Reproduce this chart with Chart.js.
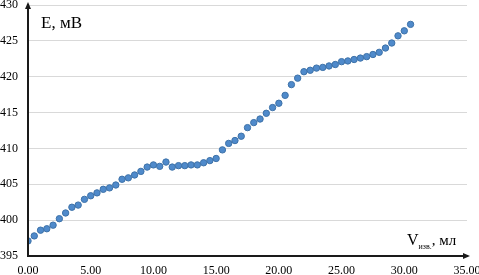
<!DOCTYPE html>
<html>
<head>
<meta charset="utf-8">
<script src="https://cdn.jsdelivr.net/npm/chart.js@4"></script>
<style>
  html, body { margin: 0; padding: 0; background: #fff; }
  #wrap { width: 479px; height: 275px; position: relative; }
</style>
</head>
<body>
<div id="wrap"><canvas id="chart" width="479" height="275"></canvas></div>
<script>
// объём титранта, мл
const volumes = [
  0.0, 0.5, 1.0, 1.5, 2.0, 2.5, 3.0, 3.5, 4.0, 4.5,
  5.0, 5.5, 6.0, 6.5, 7.0, 7.5, 8.0, 8.5, 9.0, 9.5,
  10.0, 10.5, 11.0, 11.5, 12.0, 12.5, 13.0, 13.5, 14.0, 14.5,
  15.0, 15.5, 16.0, 16.5, 17.0, 17.5, 18.0, 18.5, 19.0, 19.5,
  20.0, 20.5, 21.0, 21.5, 22.0, 22.5, 23.0, 23.5, 24.0, 24.5,
  25.0, 25.5, 26.0, 26.5, 27.0, 27.5, 28.0, 28.5, 29.0, 29.5,
  30.0, 30.5
];
// ЭДС, мВ
const potentials = [
  397.1, 397.8, 398.6, 398.8, 399.3, 400.2, 401.0, 401.8, 402.1, 402.9,
  403.4, 403.8, 404.3, 404.5, 404.9, 405.7, 405.9, 406.3, 406.8, 407.4,
  407.7, 407.5, 408.1, 407.4, 407.6, 407.6, 407.7, 407.7, 408.0, 408.3,
  408.6, 409.8, 410.7, 411.1, 411.7, 412.9, 413.6, 414.1, 414.9, 415.7,
  416.3, 417.4, 418.9, 419.8, 420.7, 420.9, 421.2, 421.3, 421.5, 421.7,
  422.1, 422.2, 422.4, 422.6, 422.8, 423.1, 423.4, 424.0, 424.7, 425.7,
  426.4, 427.3
];
const xRange = [0, 35];
const yRange = [395, 430];
const yTitle = 'E, мВ';
const xTitle = { main: 'V', sub: 'изв.', tail: ', мл' };

const SERIF = '"Liberation Serif", "Times New Roman", serif';

// стрелки на осях и подписи осей
const axesDecor = {
  id: 'axesDecor',
  afterDraw(chart) {
    const { ctx, chartArea: a } = chart;
    ctx.save();
    ctx.strokeStyle = '#1a1a1a';
    ctx.fillStyle = '#1a1a1a';
    ctx.lineWidth = 2;
    // ось Y
    ctx.beginPath();
    ctx.moveTo(a.left, a.bottom + 1);
    ctx.lineTo(a.left, a.top - 1);
    ctx.stroke();
    ctx.beginPath();
    ctx.moveTo(a.left, a.top - 3);
    ctx.lineTo(a.left - 3, a.top + 4);
    ctx.lineTo(a.left + 3, a.top + 4);
    ctx.closePath();
    ctx.fill();
    // ось X
    ctx.beginPath();
    ctx.moveTo(a.left - 1, a.bottom);
    ctx.lineTo(a.right + 1, a.bottom);
    ctx.stroke();
    ctx.beginPath();
    ctx.moveTo(a.right + 3, a.bottom);
    ctx.lineTo(a.right - 4, a.bottom - 3);
    ctx.lineTo(a.right - 4, a.bottom + 3);
    ctx.closePath();
    ctx.fill();

    // подписи
    ctx.fillStyle = '#000';
    ctx.textBaseline = 'alphabetic';
    ctx.textAlign = 'left';
    ctx.font = '17px ' + SERIF;
    ctx.fillText(yTitle, a.left + 13, a.top + 23);

    let x = a.right - 60;
    const base = a.bottom - 11;
    ctx.font = '16px ' + SERIF;
    ctx.fillText(xTitle.main, x, base);
    x += ctx.measureText(xTitle.main).width;
    ctx.font = '8px ' + SERIF;
    ctx.fillText(xTitle.sub, x, base + 4);
    x += ctx.measureText(xTitle.sub).width;
    ctx.font = '15px ' + SERIF;
    ctx.fillText(xTitle.tail, x, base);
    ctx.restore();
  }
};

new Chart(document.getElementById('chart'), {
  type: 'scatter',
  data: {
    datasets: [{
      data: volumes.map((v, i) => ({ x: v, y: potentials[i] })),
      backgroundColor: '#4f8acb',
      borderColor: '#3e72a8',
      borderWidth: 1,
      pointRadius: 3.2,
      pointHoverRadius: 3.2,
    }]
  },
  options: {
    responsive: false,
    animation: false,
    events: [],
    layout: { padding: { top: 5, right: 12, left: 0, bottom: 0 } },
    plugins: { legend: { display: false }, tooltip: { enabled: false } },
    scales: {
      x: {
        type: 'linear',
        min: xRange[0],
        max: xRange[1],
        grid: { display: false, drawTicks: false },
        border: { display: false },
        ticks: {
          stepSize: 5,
          maxRotation: 0,
          padding: 8,
          color: '#000',
          font: { family: SERIF, size: 12 },
          callback: v => v.toFixed(2),
        },
        afterFit(scale) {
          scale.height = 19;
          scale.paddingLeft = 0;
          scale.paddingRight = 0;
        },
      },
      y: {
        min: yRange[0],
        max: yRange[1],
        grid: { color: '#d9d9d9', lineWidth: 1, drawTicks: false },
        border: { display: false },
        ticks: {
          stepSize: 5,
          padding: 10,
          color: '#000',
          font: { family: SERIF, size: 12 },
        },
        afterFit(scale) {
          scale.width = 28;
          scale.paddingTop = 0;
          scale.paddingBottom = 0;
        },
      },
    },
  },
  plugins: [axesDecor],
});
</script>
</body>
</html>
